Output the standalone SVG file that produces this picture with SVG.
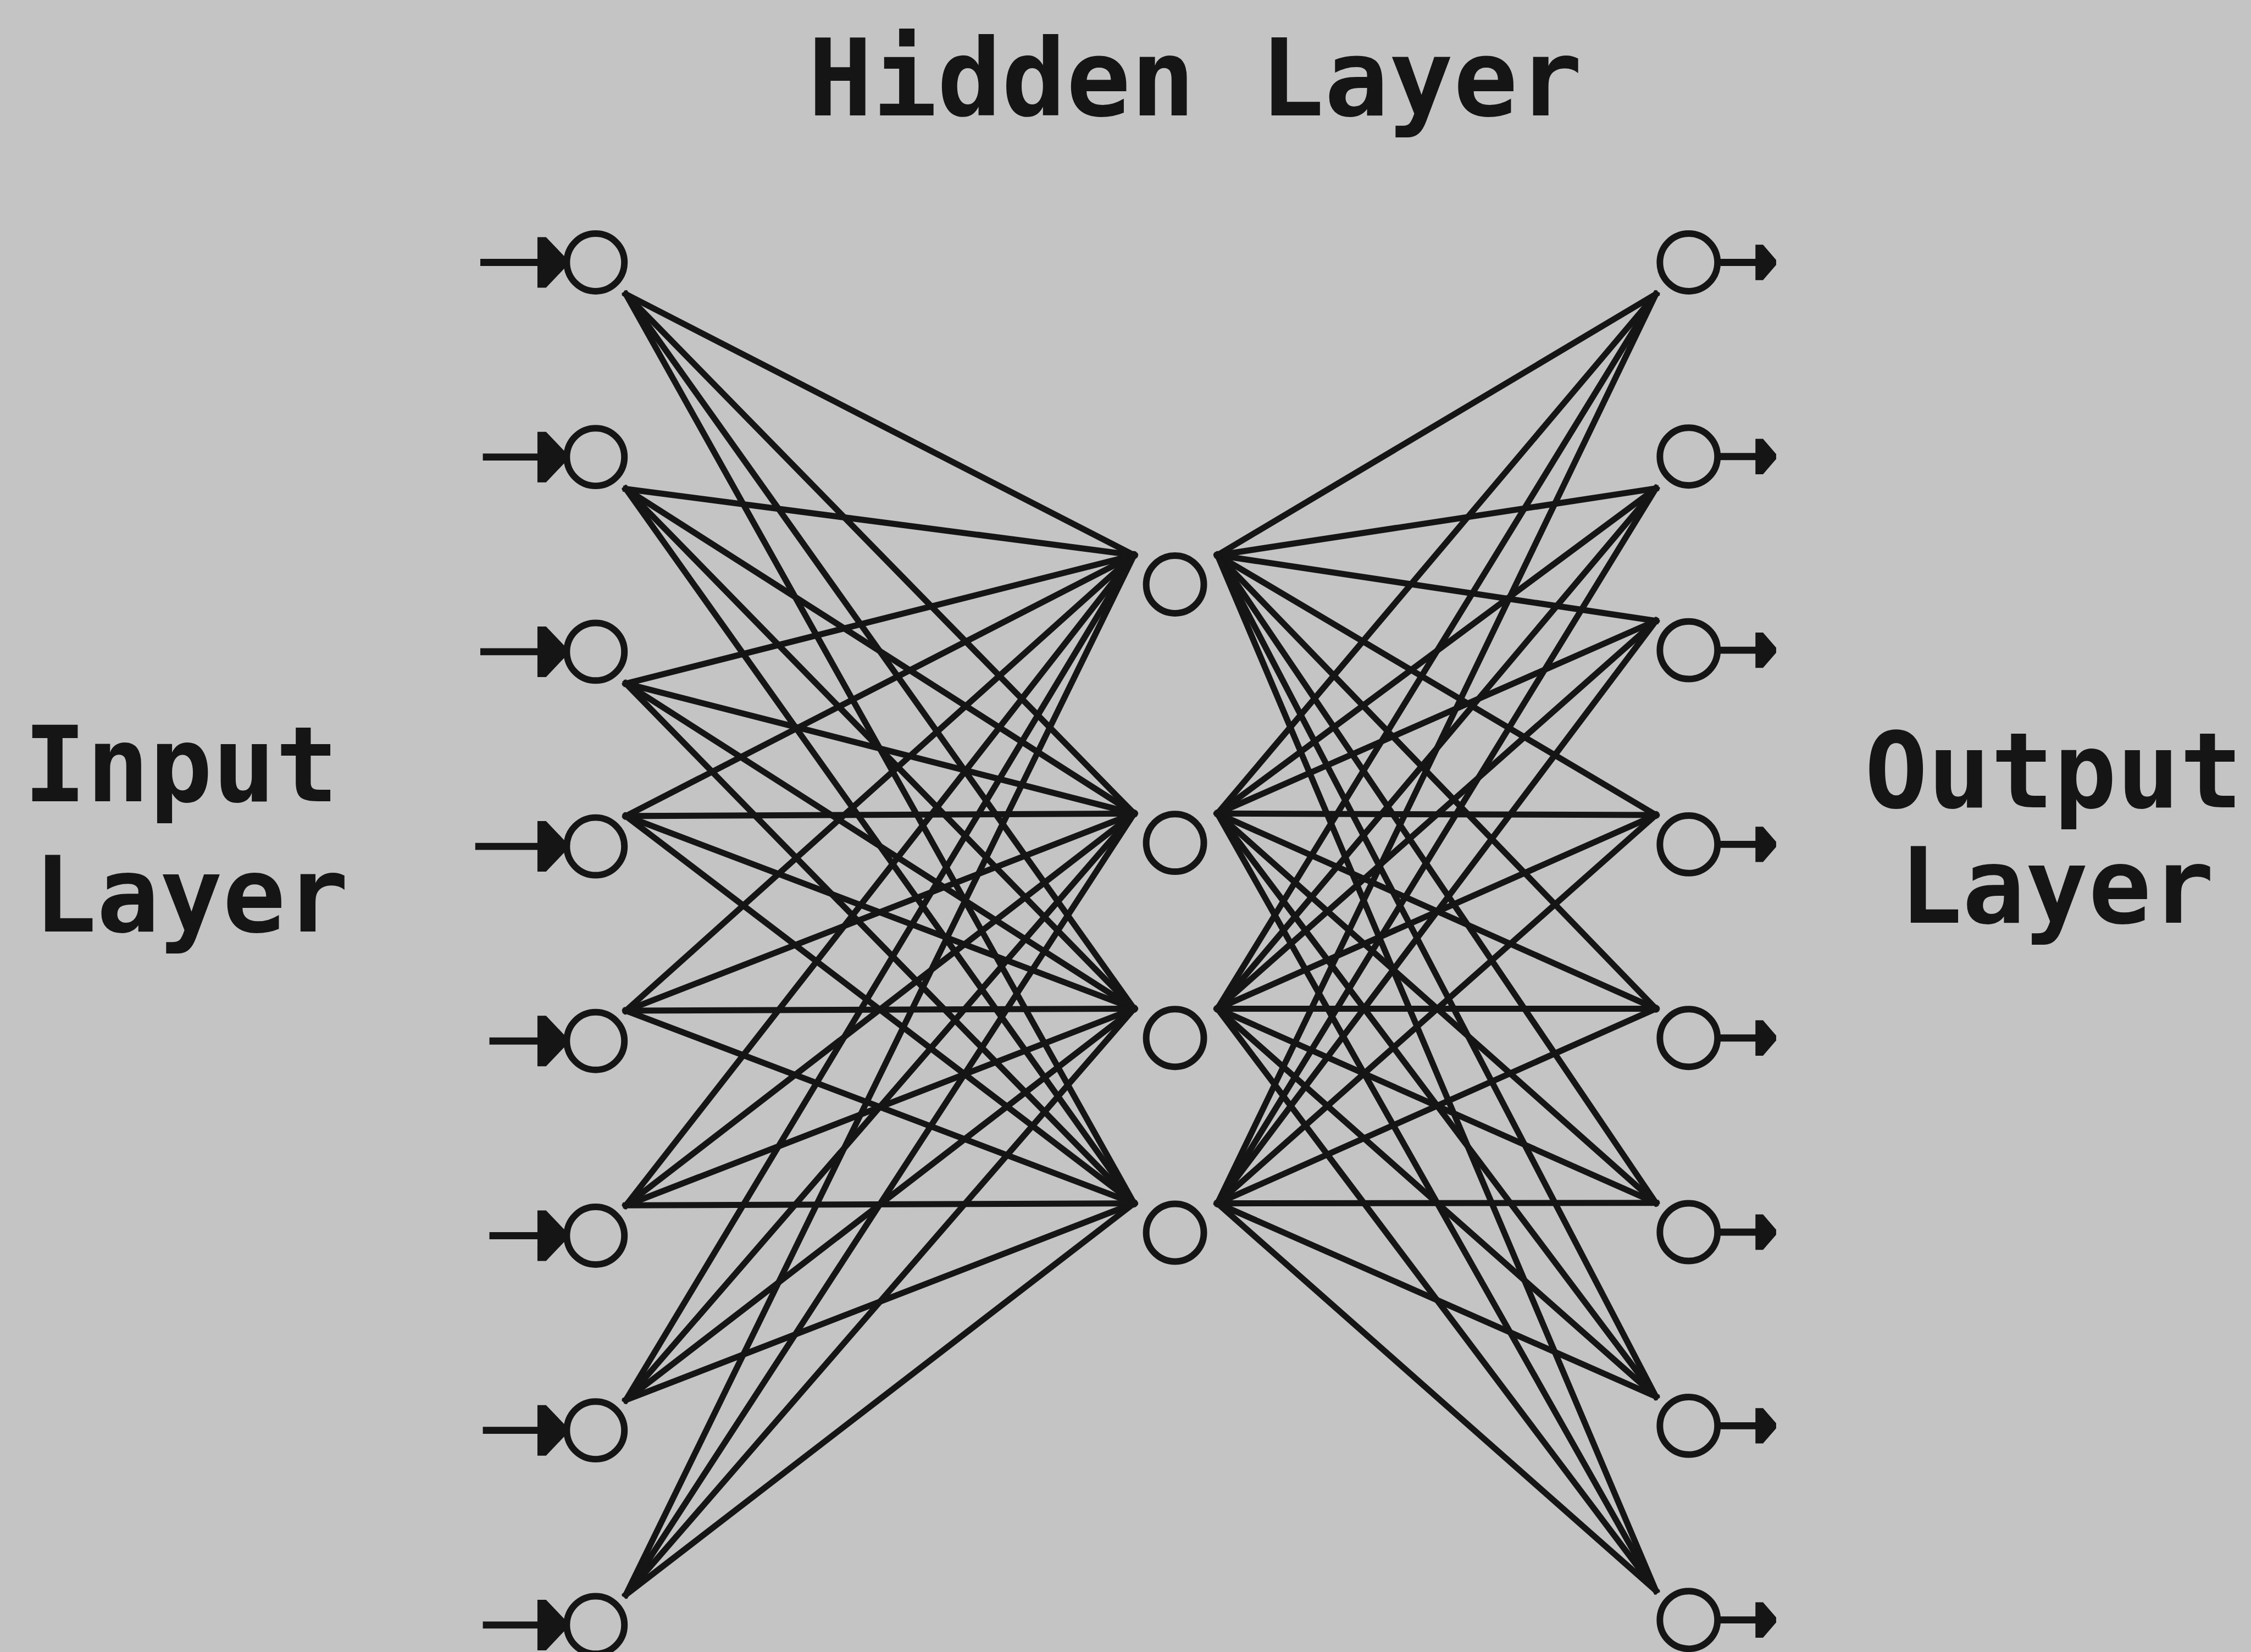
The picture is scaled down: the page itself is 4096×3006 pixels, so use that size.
<svg xmlns="http://www.w3.org/2000/svg" xmlns:xlink="http://www.w3.org/1999/xlink" width="4096" height="3006" viewBox="0 0 4096 3006">
<style>
.bg{fill:#c4c4c4}
.node{fill:none;stroke:#151515;stroke-width:13}
.wire{stroke:#151515;stroke-width:12;stroke-linecap:square;fill:none}
.stem{stroke:#151515;stroke-width:14;fill:none}
.head{fill:#151515}
.lbl{font-family:"DejaVu Sans Mono","Liberation Mono",monospace;font-weight:bold;fill:#151515;text-anchor:middle}
</style>
<defs>
<path id="inHead" class="head" d="M-57,-50 H-40 L0,-8 V8 L-40,50 H-57 Z"/>
<path id="outHead" class="head" d="M-41,-35 H-26 L0,-5 V5 L-26,35 H-41 Z"/>
</defs>
<rect class="bg" x="0" y="0" width="4096" height="3006"/>
<g transform="scale(0.92)">
<g id="labels">
<text class="lbl" x="2364" y="228" font-size="212">Hidden Layer</text>
<text class="lbl" x="358" y="1585" font-size="207">Input</text>
<text class="lbl" x="378" y="1842" font-size="207">Layer</text>
<text class="lbl" x="4062" y="1597" font-size="207">Output</text>
<text class="lbl" x="4068" y="1825" font-size="207">Layer</text>
</g>
<g id="connectors">
<line class="wire" x1="1238" y1="582" x2="2243" y2="1098"/>
<line class="wire" x1="1238" y1="582" x2="2243" y2="1609"/>
<line class="wire" x1="1238" y1="582" x2="2243" y2="1995"/>
<line class="wire" x1="1238" y1="582" x2="2243" y2="2380"/>
<line class="wire" x1="1238" y1="967" x2="2243" y2="1098"/>
<line class="wire" x1="1238" y1="967" x2="2243" y2="1609"/>
<line class="wire" x1="1238" y1="967" x2="2243" y2="1995"/>
<line class="wire" x1="1238" y1="967" x2="2243" y2="2380"/>
<line class="wire" x1="1238" y1="1352" x2="2243" y2="1098"/>
<line class="wire" x1="1238" y1="1352" x2="2243" y2="1609"/>
<line class="wire" x1="1238" y1="1352" x2="2243" y2="1995"/>
<line class="wire" x1="1238" y1="1352" x2="2243" y2="2380"/>
<line class="wire" x1="1238" y1="1614" x2="2243" y2="1098"/>
<line class="wire" x1="1238" y1="1614" x2="2243" y2="1609"/>
<line class="wire" x1="1238" y1="1614" x2="2243" y2="1995"/>
<line class="wire" x1="1238" y1="1614" x2="2243" y2="2380"/>
<line class="wire" x1="1238" y1="1999" x2="2243" y2="1098"/>
<line class="wire" x1="1238" y1="1999" x2="2243" y2="1609"/>
<line class="wire" x1="1238" y1="1999" x2="2243" y2="1995"/>
<line class="wire" x1="1238" y1="1999" x2="2243" y2="2380"/>
<line class="wire" x1="1238" y1="2384" x2="2243" y2="1098"/>
<line class="wire" x1="1238" y1="2384" x2="2243" y2="1609"/>
<line class="wire" x1="1238" y1="2384" x2="2243" y2="1995"/>
<line class="wire" x1="1238" y1="2384" x2="2243" y2="2380"/>
<line class="wire" x1="1238" y1="2769" x2="2243" y2="1098"/>
<line class="wire" x1="1238" y1="2769" x2="2243" y2="1609"/>
<line class="wire" x1="1238" y1="2769" x2="2243" y2="1995"/>
<line class="wire" x1="1238" y1="2769" x2="2243" y2="2380"/>
<line class="wire" x1="1238" y1="3154" x2="2243" y2="1098"/>
<line class="wire" x1="1238" y1="3154" x2="2243" y2="1609"/>
<line class="wire" x1="1238" y1="3154" x2="2243" y2="1995"/>
<line class="wire" x1="1238" y1="3154" x2="2243" y2="2380"/>
<line class="wire" x1="2408" y1="1098" x2="3275" y2="582"/>
<line class="wire" x1="2408" y1="1098" x2="3275" y2="966"/>
<line class="wire" x1="2408" y1="1098" x2="3275" y2="1228"/>
<line class="wire" x1="2408" y1="1098" x2="3275" y2="1612"/>
<line class="wire" x1="2408" y1="1098" x2="3275" y2="1995"/>
<line class="wire" x1="2408" y1="1098" x2="3275" y2="2379"/>
<line class="wire" x1="2408" y1="1098" x2="3275" y2="2762"/>
<line class="wire" x1="2408" y1="1098" x2="3275" y2="3146"/>
<line class="wire" x1="2408" y1="1609" x2="3275" y2="582"/>
<line class="wire" x1="2408" y1="1609" x2="3275" y2="966"/>
<line class="wire" x1="2408" y1="1609" x2="3275" y2="1228"/>
<line class="wire" x1="2408" y1="1609" x2="3275" y2="1612"/>
<line class="wire" x1="2408" y1="1609" x2="3275" y2="1995"/>
<line class="wire" x1="2408" y1="1609" x2="3275" y2="2379"/>
<line class="wire" x1="2408" y1="1609" x2="3275" y2="2762"/>
<line class="wire" x1="2408" y1="1609" x2="3275" y2="3146"/>
<line class="wire" x1="2408" y1="1995" x2="3275" y2="582"/>
<line class="wire" x1="2408" y1="1995" x2="3275" y2="966"/>
<line class="wire" x1="2408" y1="1995" x2="3275" y2="1228"/>
<line class="wire" x1="2408" y1="1995" x2="3275" y2="1612"/>
<line class="wire" x1="2408" y1="1995" x2="3275" y2="1995"/>
<line class="wire" x1="2408" y1="1995" x2="3275" y2="2379"/>
<line class="wire" x1="2408" y1="1995" x2="3275" y2="2762"/>
<line class="wire" x1="2408" y1="1995" x2="3275" y2="3146"/>
<line class="wire" x1="2408" y1="2380" x2="3275" y2="582"/>
<line class="wire" x1="2408" y1="2380" x2="3275" y2="966"/>
<line class="wire" x1="2408" y1="2380" x2="3275" y2="1228"/>
<line class="wire" x1="2408" y1="2380" x2="3275" y2="1612"/>
<line class="wire" x1="2408" y1="2380" x2="3275" y2="1995"/>
<line class="wire" x1="2408" y1="2380" x2="3275" y2="2379"/>
<line class="wire" x1="2408" y1="2380" x2="3275" y2="2762"/>
<line class="wire" x1="2408" y1="2380" x2="3275" y2="3146"/>
</g>
<g id="input-1"><line class="stem" x1="950" y1="519" x2="1070" y2="519"/><use xlink:href="#inHead" x="1120" y="519"/><circle class="node" cx="1178" cy="519" r="57"/></g>
<g id="input-2"><line class="stem" x1="955" y1="904" x2="1070" y2="904"/><use xlink:href="#inHead" x="1120" y="904"/><circle class="node" cx="1178" cy="904" r="57"/></g>
<g id="input-3"><line class="stem" x1="950" y1="1289" x2="1070" y2="1289"/><use xlink:href="#inHead" x="1120" y="1289"/><circle class="node" cx="1178" cy="1289" r="57"/></g>
<g id="input-4"><line class="stem" x1="940" y1="1674" x2="1070" y2="1674"/><use xlink:href="#inHead" x="1120" y="1674"/><circle class="node" cx="1178" cy="1674" r="57"/></g>
<g id="input-5"><line class="stem" x1="968" y1="2059" x2="1070" y2="2059"/><use xlink:href="#inHead" x="1120" y="2059"/><circle class="node" cx="1178" cy="2059" r="57"/></g>
<g id="input-6"><line class="stem" x1="968" y1="2444" x2="1070" y2="2444"/><use xlink:href="#inHead" x="1120" y="2444"/><circle class="node" cx="1178" cy="2444" r="57"/></g>
<g id="input-7"><line class="stem" x1="955" y1="2829" x2="1070" y2="2829"/><use xlink:href="#inHead" x="1120" y="2829"/><circle class="node" cx="1178" cy="2829" r="57"/></g>
<g id="input-8"><line class="stem" x1="955" y1="3214" x2="1070" y2="3214"/><use xlink:href="#inHead" x="1120" y="3214"/><circle class="node" cx="1178" cy="3214" r="57"/></g>
<g id="hidden-1"><circle class="node" cx="2324" cy="1156" r="57"/></g>
<g id="hidden-2"><circle class="node" cx="2324" cy="1667" r="57"/></g>
<g id="hidden-3"><circle class="node" cx="2324" cy="2053" r="57"/></g>
<g id="hidden-4"><circle class="node" cx="2324" cy="2438" r="57"/></g>
<g id="output-1"><circle class="node" cx="3340" cy="519" r="57"/><line class="stem" x1="3403" y1="519" x2="3480" y2="519"/><use xlink:href="#outHead" x="3513" y="519"/></g>
<g id="output-2"><circle class="node" cx="3340" cy="903" r="57"/><line class="stem" x1="3403" y1="903" x2="3480" y2="903"/><use xlink:href="#outHead" x="3513" y="903"/></g>
<g id="output-3"><circle class="node" cx="3340" cy="1286" r="57"/><line class="stem" x1="3403" y1="1286" x2="3480" y2="1286"/><use xlink:href="#outHead" x="3513" y="1286"/></g>
<g id="output-4"><circle class="node" cx="3340" cy="1670" r="57"/><line class="stem" x1="3403" y1="1670" x2="3480" y2="1670"/><use xlink:href="#outHead" x="3513" y="1670"/></g>
<g id="output-5"><circle class="node" cx="3340" cy="2053" r="57"/><line class="stem" x1="3403" y1="2053" x2="3480" y2="2053"/><use xlink:href="#outHead" x="3513" y="2053"/></g>
<g id="output-6"><circle class="node" cx="3340" cy="2437" r="57"/><line class="stem" x1="3403" y1="2437" x2="3480" y2="2437"/><use xlink:href="#outHead" x="3513" y="2437"/></g>
<g id="output-7"><circle class="node" cx="3340" cy="2820" r="57"/><line class="stem" x1="3403" y1="2820" x2="3480" y2="2820"/><use xlink:href="#outHead" x="3513" y="2820"/></g>
<g id="output-8"><circle class="node" cx="3340" cy="3204" r="57"/><line class="stem" x1="3403" y1="3204" x2="3480" y2="3204"/><use xlink:href="#outHead" x="3513" y="3204"/></g>
</g>
</svg>
